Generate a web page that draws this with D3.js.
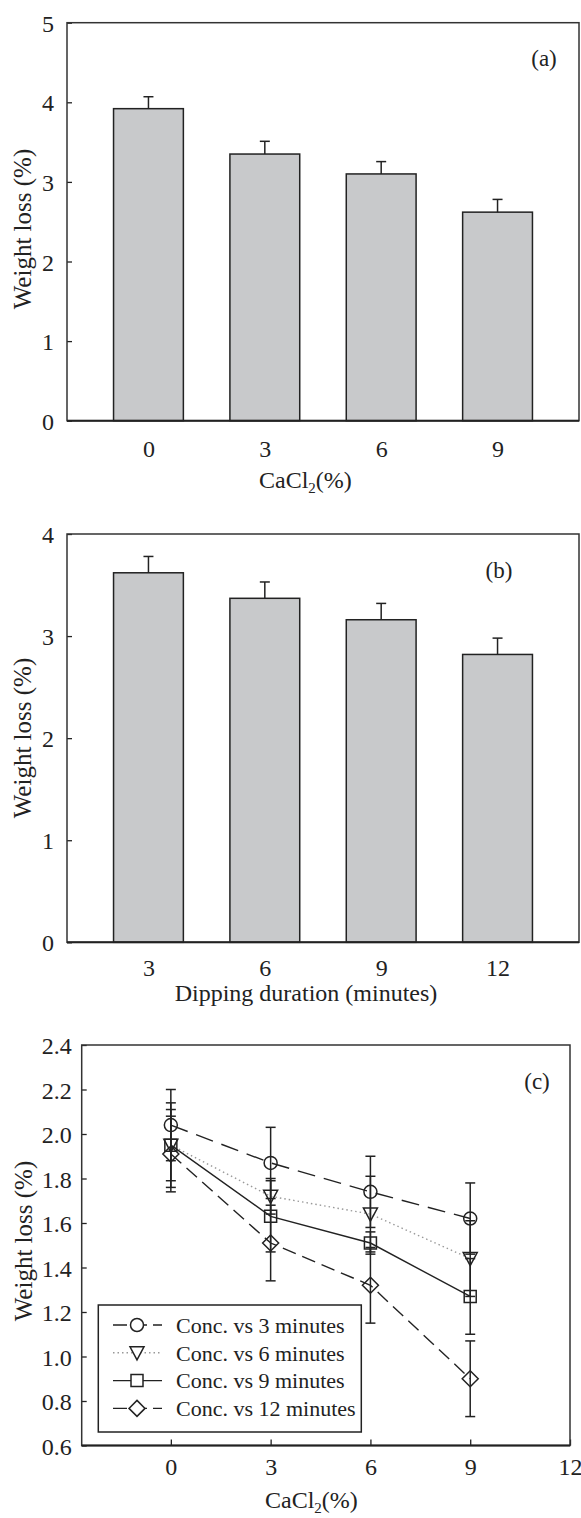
<!DOCTYPE html>
<html>
<head>
<meta charset="utf-8">
<script src="https://cdn.jsdelivr.net/npm/d3@7"></script>
<style>
  body { margin: 0; background: #fff; }
  svg text { font-family: "Liberation Serif", "Times New Roman", serif; fill: #222; }
</style>
</head>
<body>
<svg id="chart" width="581" height="1518"></svg>
<script>
// panel (a) - CaCl2 concentration
var doseLabels = [0, 3, 6, 9];
var lossByDose = [3.92, 3.35, 3.10, 2.62];
var errByDose = [0.15, 0.16, 0.155, 0.16];

// panel (b) - dipping duration
var durationLabels = [3, 6, 9, 12];
var lossByDuration = [3.62, 3.37, 3.16, 2.82];
var errByDuration = [0.16, 0.16, 0.16, 0.16];

// panel (c) - concentration vs duration
var concX = [0, 3, 6, 9];
var seriesNames = ["Conc. vs 3 minutes", "Conc. vs 6 minutes", "Conc. vs 9 minutes", "Conc. vs 12 minutes"];
var loss3min = [2.04, 1.87, 1.74, 1.62];
var loss6min = [1.95, 1.72, 1.64, 1.44];
var loss9min = [1.95, 1.63, 1.51, 1.27];
var loss12min = [1.91, 1.51, 1.32, 0.90];
var err3min = [0.16, 0.16, 0.16, 0.16];
var err6min = [0.16, 0.08, 0.17, 0.17];
var err9min = [0.19, 0.16, 0.05, 0.17];
var err12min = [0.17, 0.17, 0.17, 0.17];

var ink = "#222";
var svg = d3.select("#chart");

function frame(x0, y0, x1, y1) {
	svg.append("rect")
		.attr("x", x0).attr("y", y0)
		.attr("width", x1 - x0).attr("height", y1 - y0)
		.attr("fill", "none").attr("stroke", "#333").attr("stroke-width", 1.5);
	svg.append("line")
		.attr("x1", x0).attr("x2", x1).attr("y1", y1).attr("y2", y1)
		.attr("stroke", ink).attr("stroke-width", 2);
}

function yTitle(cx, cy) {
	svg.append("text")
		.attr("transform", "translate(" + cx + "," + cy + ") rotate(-90)")
		.attr("text-anchor", "middle")
		.style("font-size", "25px")
		.text("Weight loss (%)");
}

function cacl2Title(x, y) {
	var t = svg.append("text")
		.attr("x", x).attr("y", y)
		.style("font-size", "24px");
	t.append("tspan").text("CaCl");
	t.append("tspan").attr("dy", 5).style("font-size", "15px").text("2");
	t.append("tspan").attr("dy", -5).text("(%)");
}

function barPanel(opt) {
	var x = d3.scalePoint().domain(opt.cats).range([opt.left, opt.right]).padding(0.7);
	var y = d3.scaleLinear().domain([0, opt.ymax]).range([opt.bottom, opt.top]);
	var bw = x.step() * 0.6;

	svg.append("g")
		.attr("transform", "translate(" + opt.left + ",0)")
		.call(d3.axisLeft(y).ticks(opt.ymax).tickSize(-5).tickPadding(13))
		.call(function(g) {
			g.select(".domain").remove();
			g.selectAll("line").attr("stroke", ink).attr("stroke-width", 1.3);
			g.selectAll("text").style("font-size", "24px").attr("dy", "0.36em");
		});

	svg.append("g")
		.attr("transform", "translate(0," + opt.bottom + ")")
		.call(d3.axisBottom(x).tickSize(0).tickPadding(opt.xpad))
		.call(function(g) {
			g.select(".domain").remove();
			g.selectAll("text").style("font-size", "24px");
		});

	var rows = opt.cats.map(function(c, i) { return {c: c, v: opt.values[i], e: opt.errs[i]}; });

	svg.append("g").selectAll("rect")
		.data(rows)
		.enter().append("rect")
		.attr("x", function(d) { return x(d.c) - bw / 2; })
		.attr("y", function(d) { return y(d.v); })
		.attr("width", bw)
		.attr("height", function(d) { return y(0) - y(d.v); })
		.attr("fill", "#c8c9cb")
		.attr("stroke", ink).attr("stroke-width", 1.5);

	var eb = svg.append("g").attr("stroke", ink).attr("stroke-width", 1.5);
	eb.selectAll(".stem").data(rows).enter().append("line")
		.attr("x1", function(d) { return x(d.c); }).attr("x2", function(d) { return x(d.c); })
		.attr("y1", function(d) { return y(d.v); }).attr("y2", function(d) { return y(d.v + d.e); });
	eb.selectAll(".cap").data(rows).enter().append("line")
		.attr("x1", function(d) { return x(d.c) - 5; }).attr("x2", function(d) { return x(d.c) + 5; })
		.attr("y1", function(d) { return y(d.v + d.e); }).attr("y2", function(d) { return y(d.v + d.e); });

	frame(opt.left, opt.top, opt.right, opt.bottom);

	svg.append("text")
		.attr("x", opt.tagX).attr("y", opt.tagY)
		.attr("text-anchor", "middle")
		.style("font-size", "23px")
		.text(opt.tag);
}

// (a)
barPanel({
	cats: doseLabels, values: lossByDose, errs: errByDose,
	left: 67, right: 579, top: 22.7, bottom: 420.7, ymax: 5, xpad: 19,
	tag: "(a)", tagX: 544, tagY: 66
});
yTitle(31, 229);
cacl2Title(259, 488);

// (b)
barPanel({
	cats: durationLabels, values: lossByDuration, errs: errByDuration,
	left: 67, right: 579, top: 534, bottom: 942.3, ymax: 4, xpad: 17,
	tag: "(b)", tagX: 499, tagY: 578
});
yTitle(31, 738);
svg.append("text")
	.attr("x", 306).attr("y", 1001)
	.attr("text-anchor", "middle")
	.style("font-size", "24px")
	.text("Dipping duration (minutes)");

// (c)
var cx = d3.scaleLinear().domain([-2.68, 12]).range([81.7, 570]);
var cy = d3.scaleLinear().domain([0.6, 2.4]).range([1445.5, 1045]);

svg.append("g")
	.attr("transform", "translate(81.7,0)")
	.call(d3.axisLeft(cy).tickValues(d3.range(0.6, 2.41, 0.2)).tickFormat(d3.format(".1f")).tickSize(-5).tickPadding(10))
	.call(function(g) {
		g.select(".domain").remove();
		g.selectAll("line").attr("stroke", ink).attr("stroke-width", 1.3);
		g.selectAll("text").style("font-size", "24px").attr("dy", "0.36em");
	});

svg.append("g")
	.attr("transform", "translate(0,1445.5)")
	.call(d3.axisBottom(cx).tickValues([0, 3, 6, 9, 12]).tickSize(-6).tickPadding(12))
	.call(function(g) {
		g.select(".domain").remove();
		g.selectAll("line").attr("stroke", ink).attr("stroke-width", 1.3);
		g.selectAll("text").style("font-size", "24px");
	});

var series = [
	{name: seriesNames[0], vals: loss3min, errs: err3min, shape: "circle", dash: "18,9", color: ink, w: 1.4},
	{name: seriesNames[1], vals: loss6min, errs: err6min, shape: "triangle", dash: "1.5,3", color: "#999", w: 1.4},
	{name: seriesNames[2], vals: loss9min, errs: err9min, shape: "square", dash: null, color: ink, w: 1.4},
	{name: seriesNames[3], vals: loss12min, errs: err12min, shape: "diamond", dash: "14,7", color: ink, w: 1.4}
];

var symbolPath = {
	circle: d3.symbol().type(d3.symbolCircle).size(Math.PI * 6.5 * 6.5)(),
	triangle: "M-7,-6L7,-6L0,7Z",
	square: "M-6,-6H6V6H-6Z",
	diamond: "M0,-8L8,0L0,8L-8,0Z"
};

var line = d3.line()
	.x(function(d) { return cx(d.x); })
	.y(function(d) { return cy(d.v); });

series.forEach(function(s) {
	var pts = concX.map(function(c, i) { return {x: c, v: s.vals[i], e: s.errs[i]}; });

	var g = svg.append("g");
	g.append("path")
		.datum(pts)
		.attr("d", line)
		.attr("fill", "none")
		.attr("stroke", s.color)
		.attr("stroke-width", s.w)
		.attr("stroke-dasharray", s.dash);

	var eb = g.append("g").attr("stroke", ink).attr("stroke-width", 1.5);
	eb.selectAll(".stem").data(pts).enter().append("line")
		.attr("x1", function(d) { return cx(d.x); }).attr("x2", function(d) { return cx(d.x); })
		.attr("y1", function(d) { return cy(d.v - d.e); }).attr("y2", function(d) { return cy(d.v + d.e); });
	[-1, 1].forEach(function(sign) {
		eb.selectAll(".cap" + sign).data(pts).enter().append("line")
			.attr("x1", function(d) { return cx(d.x) - 5; }).attr("x2", function(d) { return cx(d.x) + 5; })
			.attr("y1", function(d) { return cy(d.v + sign * d.e); }).attr("y2", function(d) { return cy(d.v + sign * d.e); });
	});

	g.selectAll(".mark").data(pts).enter().append("path")
		.attr("transform", function(d) { return "translate(" + cx(d.x) + "," + cy(d.v) + ")"; })
		.attr("d", symbolPath[s.shape])
		.attr("fill", "none")
		.attr("stroke", ink).attr("stroke-width", 1.5);
});

frame(81.7, 1045, 570, 1445.5);

// legend
var lg = svg.append("g");
lg.append("rect")
	.attr("x", 98.3).attr("y", 1305).attr("width", 263).attr("height", 127)
	.attr("fill", "#fff").attr("stroke", ink).attr("stroke-width", 1.5);
series.forEach(function(s, i) {
	var ry = 1325 + i * 27.8;
	lg.append("line")
		.attr("x1", 113).attr("x2", 162).attr("y1", ry).attr("y2", ry)
		.attr("stroke", s.color).attr("stroke-width", s.w)
		.attr("stroke-dasharray", s.dash ? (s.shape === "triangle" ? s.dash : "14,6") : null);
	lg.append("path")
		.attr("transform", "translate(137," + ry + ")")
		.attr("d", symbolPath[s.shape])
		.attr("fill", "#fff")
		.attr("stroke", ink).attr("stroke-width", 1.5);
	lg.append("text")
		.attr("x", 176).attr("y", ry).attr("dy", "0.35em")
		.style("font-size", "22px")
		.text(s.name);
});

svg.append("text")
	.attr("x", 537).attr("y", 1089)
	.attr("text-anchor", "middle")
	.style("font-size", "23px")
	.text("(c)");

yTitle(32, 1241);
cacl2Title(265, 1508);
</script>
</body>
</html>
